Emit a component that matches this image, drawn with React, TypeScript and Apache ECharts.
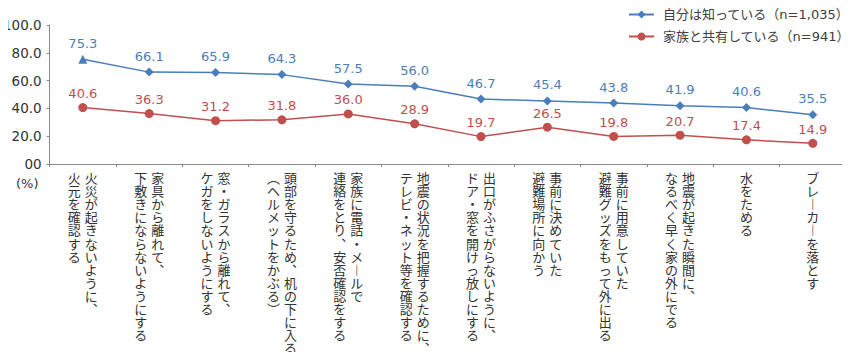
import React, { useEffect, useRef } from "react";
import * as echarts from "echarts";

const categories: string[][] = [
  ["火災が起きないように、", "火元を確認する"],
  ["家具から離れて、", "下敷きにならないようにする"],
  ["窓・ガラスから離れて、", "ケガをしないようにする"],
  ["頭部を守るため、机の下に入る", "（ヘルメットをかぶる）"],
  ["家族に電話・メールで", "連絡をとり、安否確認をする"],
  ["地震の状況を把握するために、", "テレビ・ネット等を確認する"],
  ["出口がふさがらないように、", "ドア・窓を開けっ放しにする"],
  ["事前に決めていた", "避難場所に向かう"],
  ["事前に用意していた", "避難グッズをもって外に出る"],
  ["地震が起きた瞬間に、", "なるべく早く家の外にでる"],
  ["水をためる"],
  ["ブレーカーを落とす"],
];

const seriesNames = ["自分は知っている（n=1,035）", "家族と共有している（n=941）"];
const knowValues = [75.3, 66.1, 65.9, 64.3, 57.5, 56.0, 46.7, 45.4, 43.8, 41.9, 40.6, 35.5];
const shareValues = [40.6, 36.3, 31.2, 31.8, 36.0, 28.9, 19.7, 26.5, 19.8, 20.7, 17.4, 14.9];
const yTicks = { min: 0, max: 100, interval: 20 };

const BLUE = "#4A7EBB";
const RED = "#C0504D";
const NUM_FONT = "'DejaVu Sans', Verdana, 'Noto Sans CJK JP', sans-serif";
const JP_FONT = "'Noto Sans CJK JP', 'Noto Sans', sans-serif";

const vertMap: Record<string, string> = {
  "、": "︑",
  "ー": "︱",
  "（": "︵",
  "）": "︶",
};
const toVert = (s: string) => Array.from(s).map((c) => vertMap[c] ?? c);

function verticalLabel(value: string): string {
  const lines = value.split("\n");
  const cols = lines.map(toVert);
  const n = Math.max(...cols.map((c) => c.length));
  const rows: string[] = [];
  for (let i = 0; i < n; i++) {
    if (cols.length === 1) {
      rows.push(`{r|${cols[0][i] ?? "　"}}`);
    } else {
      rows.push(`{l|${cols[1][i] ?? "　"}}{r|${cols[0][i] ?? "　"}}`);
    }
  }
  return rows.join("\n");
}

export default function App() {
  const ref = useRef<HTMLDivElement>(null);
  useEffect(() => {
    if (!ref.current) return;
    const chart = echarts.init(ref.current, null, { renderer: "svg" });
    const cellStyle = {
      width: 17,
      align: "center" as const,
      fontSize: 13,
      lineHeight: 13.1,
      fontFamily: JP_FONT,
      color: "#333",
    };
    chart.setOption({
      animation: false,
      backgroundColor: "#fff",
      grid: { left: 49, right: 4, top: 25, bottom: 196, containLabel: false },
      legend: {
        orient: "vertical",
        left: 623,
        top: 3,
        itemWidth: 25,
        itemHeight: 10,
        itemGap: 9,
        textStyle: { fontSize: 13, color: "#404040", fontFamily: NUM_FONT, padding: [0, 0, 0, 4] },
        data: seriesNames,
      },
      xAxis: {
        type: "category",
        boundaryGap: true,
        data: categories.map((c) => c.join("\n")),
        axisLine: { lineStyle: { color: "#888" } },
        axisTick: { show: true, length: 3, lineStyle: { color: "#888" } },
        axisLabel: {
          interval: 0,
          margin: 7,
          formatter: (v: string) => verticalLabel(v),
          rich: { l: cellStyle, r: cellStyle },
        },
      },
      yAxis: {
        type: "value",
        min: yTicks.min,
        max: yTicks.max,
        interval: yTicks.interval,
        splitLine: { show: false },
        axisLine: { show: true, lineStyle: { color: "#888" } },
        axisTick: { show: true, length: 3, lineStyle: { color: "#888" } },
        axisLabel: {
          margin: 8,
          fontSize: 13.5,
          color: "#333",
          fontFamily: NUM_FONT,
          formatter: (v: number) => (v === 0 ? "00" : v.toFixed(1)),
        },
      },
      graphic: [
        {
          type: "text",
          left: 16,
          top: 177,
          style: { text: "(%)", fontSize: 13, fill: "#333", fontFamily: NUM_FONT },
        },
      ],
      series: [
        {
          name: seriesNames[0],
          type: "line",
          symbol: "diamond",
          symbolSize: 9,
          color: BLUE,
          lineStyle: { width: 1.5, color: BLUE },
          data: knowValues.map((v, i) => (i === 0 ? { value: v, symbol: "triangle", symbolSize: 9 } : v)),
          label: {
            show: true,
            position: "top",
            distance: 5,
            fontSize: 13,
            fontFamily: NUM_FONT,
            color: BLUE,
            formatter: (p: any) => Number(p.value).toFixed(1),
          },
        },
        {
          name: seriesNames[1],
          type: "line",
          symbol: "circle",
          symbolSize: 9,
          color: RED,
          lineStyle: { width: 1.5, color: RED },
          data: shareValues,
          label: {
            show: true,
            position: "top",
            distance: 3,
            fontSize: 13,
            fontFamily: NUM_FONT,
            color: RED,
            formatter: (p: any) => Number(p.value).toFixed(1),
          },
        },
      ],
    });
    return () => chart.dispose();
  }, []);
  return <div ref={ref} style={{ width: 850, height: 360, margin: -8 }} />;
}
